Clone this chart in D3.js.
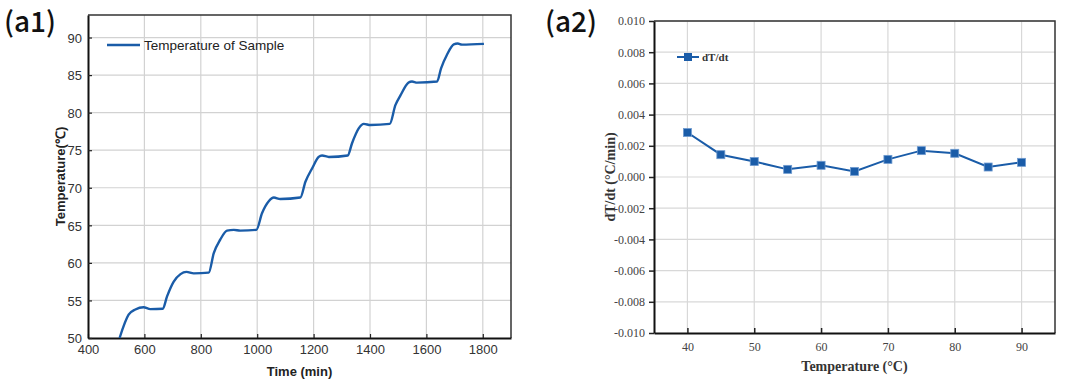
<!DOCTYPE html>
<html>
<head>
<meta charset="utf-8">
<script src="https://cdn.jsdelivr.net/npm/d3@7"></script>
<style>
  body { margin: 0; background: #fff; }
  svg { display: block; }
</style>
</head>
<body>
<svg></svg>
<script>
// panel a1: temperature of sample vs time
let timeMin = [512, 544, 568, 597, 621, 665, 680, 704, 728, 749, 775, 828, 846, 869, 893, 917, 940, 997,
  1017, 1041, 1059, 1082, 1153, 1171, 1195, 1218, 1230, 1254, 1321, 1336, 1360, 1378, 1402, 1470,
  1490, 1508, 1537, 1549, 1567, 1638, 1652, 1673, 1697, 1711, 1726, 1804]
let sampleTemp = [50, 53.1, 53.8, 54.1, 53.85, 53.9, 55.5, 57.5, 58.5, 58.8, 58.6, 58.7, 61.3, 63.1, 64.3, 64.4, 64.3, 64.4,
  66.6, 68.2, 68.7, 68.5, 68.7, 70.8, 72.6, 74.1, 74.3, 74.1, 74.3, 75.9, 77.9, 78.5, 78.35, 78.5,
  81, 82.3, 84.0, 84.15, 84.0, 84.15, 85.9, 87.7, 89.1, 89.2, 89.05, 89.15]
let a1XTicks = [400, 600, 800, 1000, 1200, 1400, 1600, 1800]
let a1YTicks = [50, 55, 60, 65, 70, 75, 80, 85, 90]

// panel a2: dT/dt vs temperature
let setTemp = [40, 45, 50, 55, 60, 65, 70, 75, 80, 85, 90]
let dTdt = [0.00285, 0.00143, 0.00099, 0.00049, 0.00075, 0.00036, 0.00113, 0.00169, 0.00152, 0.00064, 0.00094]
let a2XTicks = [40, 50, 60, 70, 80, 90]
let a2YTicks = [-0.010, -0.008, -0.006, -0.004, -0.002, 0.000, 0.002, 0.004, 0.006, 0.008, 0.010]

let width = 1080
let height = 383
let blue = '#1a5ca8'

let svg = d3.select('svg').attr('width', width).attr('height', height)

const drawA1 = () => {
    let left = 88, right = 511, top = 15, bottom = 338
    let xScale = d3.scaleLinear().domain([400, 1900]).range([left, right])
    let yScale = d3.scaleLinear().domain([50, 93]).range([bottom, top])
    let g = svg.append('g')

    // grid
    g.append('g')
        .selectAll('line.vg').data(a1XTicks.slice(1)).enter().append('line')
        .attr('x1', d => xScale(d)).attr('x2', d => xScale(d))
        .attr('y1', top).attr('y2', bottom)
        .attr('stroke', '#d2d2d2').attr('stroke-width', 1.2)
    g.append('g')
        .selectAll('line.hg').data(a1YTicks.slice(1)).enter().append('line')
        .attr('x1', left).attr('x2', right)
        .attr('y1', d => yScale(d)).attr('y2', d => yScale(d))
        .attr('stroke', '#d2d2d2').attr('stroke-width', 1.2)

    // frame top/right
    g.append('path')
        .attr('d', `M${left},${top}H${right}V${bottom}`)
        .attr('fill', 'none').attr('stroke', '#333').attr('stroke-width', 1.5)

    let xAxis = d3.axisBottom(xScale).tickValues(a1XTicks).tickSize(-4).tickPadding(7).tickSizeOuter(0)
        .tickFormat(d3.format('d'))
    let yAxis = d3.axisLeft(yScale).tickValues(a1YTicks).tickSize(-4).tickPadding(6).tickSizeOuter(0)

    let xg = g.append('g').attr('transform', 'translate(0,' + bottom + ')').call(xAxis)
    let yg = g.append('g').attr('transform', 'translate(' + left + ',0)').call(yAxis)
    ;[xg, yg].forEach(a => {
        a.select('.domain').attr('stroke', '#111').attr('stroke-width', 2)
        a.selectAll('.tick line').attr('stroke', '#222').attr('stroke-width', 1.2)
        a.selectAll('.tick text').attr('fill', '#333')
            .style('font-family', '"Liberation Sans", Arial, sans-serif').style('font-size', '13px')
    })
    yg.selectAll('.tick text').attr('dy', '0.36em')

    // curve
    let pts = timeMin.map((t, i) => [t, sampleTemp[i]])
    let line = d3.line().x(d => xScale(d[0])).y(d => yScale(d[1])).curve(d3.curveMonotoneX)
    g.append('path').datum(pts).attr('d', line)
        .attr('fill', 'none').attr('stroke', blue).attr('stroke-width', 2.4)

    // legend
    g.append('line').attr('x1', 107).attr('x2', 140).attr('y1', 45).attr('y2', 45)
        .attr('stroke', blue).attr('stroke-width', 2.4)
    g.append('text').attr('x', 144).attr('y', 50)
        .style('font-family', '"Liberation Sans", Arial, sans-serif').style('font-size', '13.5px')
        .attr('fill', '#222').text('Temperature of Sample')

    // axis titles
    g.append('text').attr('x', (left + right) / 2).attr('y', 376).attr('text-anchor', 'middle')
        .style('font-family', '"Liberation Sans", Arial, sans-serif').style('font-size', '13px')
        .style('font-weight', 'bold').attr('fill', '#222').text('Time (min)')
    g.append('text').attr('transform', 'translate(65,' + ((top + bottom) / 2) + ') rotate(-90)')
        .attr('text-anchor', 'middle')
        .style('font-family', '"Liberation Sans", Arial, sans-serif').style('font-size', '13px')
        .style('font-weight', 'bold').attr('fill', '#222').text('Temperature(℃)')

    g.append('text').attr('x', 4).attr('y', 32)
        .style('font-family', '"Noto Sans CJK SC", "Noto Sans", sans-serif').style('font-size', '28px')
        .style('font-weight', 500).attr('fill', '#111').text('(a1)')
}

const drawA2 = () => {
    let left = 654, right = 1055, top = 21, bottom = 333
    let xScale = d3.scaleLinear().domain([35, 95]).range([left, right])
    let yScale = d3.scaleLinear().domain([-0.01, 0.01]).range([bottom, top])
    let g = svg.append('g')
    let serif = '"Liberation Serif", "Times New Roman", serif'

    g.append('g')
        .selectAll('line').data(a2XTicks).enter().append('line')
        .attr('x1', d => xScale(d)).attr('x2', d => xScale(d))
        .attr('y1', top).attr('y2', bottom)
        .attr('stroke', '#d8d8d8').attr('stroke-width', 1.2)
    g.append('g')
        .selectAll('line').data(a2YTicks.slice(1)).enter().append('line')
        .attr('x1', left).attr('x2', right)
        .attr('y1', d => yScale(d)).attr('y2', d => yScale(d))
        .attr('stroke', '#d8d8d8').attr('stroke-width', 1.2)

    g.append('path')
        .attr('d', `M${left},${top}H${right}V${bottom}`)
        .attr('fill', 'none').attr('stroke', '#333').attr('stroke-width', 1.5)

    let xAxis = d3.axisBottom(xScale).tickValues(a2XTicks).tickSize(-5).tickPadding(9).tickSizeOuter(0)
    let yAxis = d3.axisLeft(yScale).tickValues(a2YTicks).tickSize(5).tickPadding(4).tickSizeOuter(0)
        .tickFormat(d3.format('.3f'))

    let xg = g.append('g').attr('transform', 'translate(0,' + bottom + ')').call(xAxis)
    let yg = g.append('g').attr('transform', 'translate(' + left + ',0)').call(yAxis)
    ;[xg, yg].forEach(a => {
        a.select('.domain').attr('stroke', '#111').attr('stroke-width', 2)
        a.selectAll('.tick line').attr('stroke', '#222').attr('stroke-width', 1.5)
        a.selectAll('.tick text').attr('fill', '#444')
            .style('font-family', serif).style('font-size', '12px')
    })
    yg.selectAll('.tick text').text(d => d3.format('.3f')(d).replace('−', '-'))

    let pts = setTemp.map((t, i) => [t, dTdt[i]])
    let line = d3.line().x(d => xScale(d[0])).y(d => yScale(d[1]))
    g.append('path').datum(pts).attr('d', line)
        .attr('fill', 'none').attr('stroke', blue).attr('stroke-width', 2)
    g.selectAll('rect.pt').data(pts).enter().append('rect')
        .attr('x', d => xScale(d[0]) - 4).attr('y', d => yScale(d[1]) - 4)
        .attr('width', 8).attr('height', 8)
        .attr('fill', blue).attr('stroke', '#6f9bd0').attr('stroke-width', 0.8)

    // legend
    g.append('line').attr('x1', 677).attr('x2', 699).attr('y1', 57).attr('y2', 57)
        .attr('stroke', blue).attr('stroke-width', 2)
    g.append('rect').attr('x', 684).attr('y', 53).attr('width', 8).attr('height', 8)
        .attr('fill', blue)
    g.append('text').attr('x', 702).attr('y', 61)
        .style('font-family', serif).style('font-size', '11px').style('font-weight', 'bold')
        .attr('fill', '#333').text('dT/dt')

    g.append('text').attr('x', (left + right) / 2).attr('y', 371).attr('text-anchor', 'middle')
        .style('font-family', serif).style('font-size', '14px')
        .style('font-weight', 'bold').attr('fill', '#333').text('Temperature (°C)')
    g.append('text').attr('transform', 'translate(615,' + ((top + bottom) / 2) + ') rotate(-90)')
        .attr('text-anchor', 'middle')
        .style('font-family', serif).style('font-size', '14px')
        .style('font-weight', 'bold').attr('fill', '#333').text('dT/dt (°C/min)')

    g.append('text').attr('x', 545).attr('y', 32)
        .style('font-family', '"Noto Sans CJK SC", "Noto Sans", sans-serif').style('font-size', '28px')
        .style('font-weight', 500).attr('fill', '#111').text('(a2)')
}

drawA1()
drawA2()
</script>
</body>
</html>
